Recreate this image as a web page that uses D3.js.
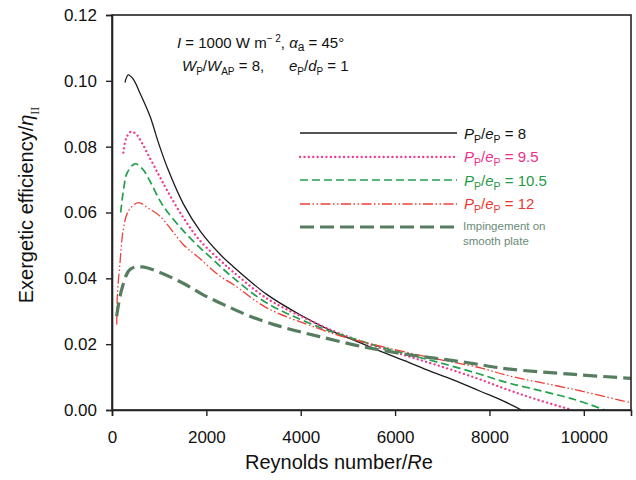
<!DOCTYPE html>
<html>
<head>
<meta charset="utf-8">
<script src="https://cdn.jsdelivr.net/npm/d3@7"></script>
<style>
  html, body { margin: 0; padding: 0; background: #fff; }
  svg { display: block; font-family: "Liberation Sans", Arial, sans-serif; }
</style>
</head>
<body>
<svg id="chart" width="636" height="480"></svg>
<script>
// Exergetic efficiency vs Reynolds number for pitch ratios and smooth-plate impingement
const xTicks = [0, 2000, 4000, 6000, 8000, 10000];
const yTicks = [0.00, 0.02, 0.04, 0.06, 0.08, 0.10, 0.12];

const rePe8  = [275, 345, 450, 592, 804, 1000, 1195, 1509, 1862, 2290, 2566, 3272, 3977, 4625, 5200, 5685, 6200, 6745, 7300, 7806, 8300, 8680];
const effPe8 = [0.0995, 0.1018, 0.1005, 0.0963, 0.0893, 0.0805, 0.0728, 0.0627, 0.0545, 0.0473, 0.0436, 0.0352, 0.0290, 0.0242, 0.0208, 0.0179, 0.0150, 0.0118, 0.0088, 0.0057, 0.0027, 0.0];

const rePe95  = [240, 300, 395, 500, 592, 804, 1000, 1157, 1509, 1862, 2290, 2566, 3272, 4119, 4800, 5685, 6300, 6960, 7700, 8381, 9000, 9750];
const effPe95 = [0.0782, 0.0825, 0.0845, 0.0840, 0.0822, 0.0765, 0.0712, 0.0670, 0.0585, 0.0515, 0.0455, 0.0420, 0.0340, 0.0277, 0.0234, 0.0189, 0.0162, 0.0133, 0.0098, 0.0062, 0.0032, 0.0];

const rePe105  = [184, 250, 320, 487, 650, 806, 1000, 1157, 1509, 1862, 2079, 2566, 3272, 4330, 5000, 5685, 6300, 6960, 7700, 8381, 9100, 9800, 10450];
const effPe105 = [0.0600, 0.0675, 0.0720, 0.0748, 0.0732, 0.0695, 0.0640, 0.0605, 0.0545, 0.0493, 0.0465, 0.0402, 0.0326, 0.0255, 0.0222, 0.0192, 0.0168, 0.0143, 0.0113, 0.0083, 0.0058, 0.0032, 0.0];

const rePe12  = [100, 113, 170, 240, 350, 557, 750, 1015, 1509, 1862, 2285, 2566, 3272, 4330, 5000, 5685, 6745, 7806, 8381, 9800, 11000];
const effPe12 = [0.0260, 0.0346, 0.0448, 0.0549, 0.0605, 0.0630, 0.0615, 0.0589, 0.0503, 0.0460, 0.0407, 0.0382, 0.0311, 0.0250, 0.0218, 0.0194, 0.0159, 0.0128, 0.0105, 0.0062, 0.0022];

const reSmooth  = [99, 205, 381, 628, 1015, 1509, 1932, 2400, 2923, 3563, 3977, 4400, 5325, 6385, 7030, 7657, 8381, 9800, 11000];
const effSmooth = [0.0285, 0.0366, 0.0427, 0.0435, 0.0418, 0.0385, 0.0350, 0.0318, 0.0285, 0.0254, 0.0238, 0.0223, 0.0192, 0.0166, 0.0154, 0.0141, 0.0125, 0.0108, 0.0096];

const seriesNames = ["8", "9.5", "10.5", "12", "smooth"];

const series = [
  { name: seriesNames[0], re: rePe8,   eff: effPe8,   color: "#1c1c1c", width: 1.3, dash: null,                 cap: "butt",  text: "#111" },
  { name: seriesNames[1], re: rePe95,  eff: effPe95,  color: "#f0388f", width: 2.3, dash: "0.1,4.3",            cap: "round", text: "#ec2f8a" },
  { name: seriesNames[2], re: rePe105, eff: effPe105, color: "#22a04c", width: 1.7, dash: "8,4",                cap: "butt",  text: "#1f9a46" },
  { name: seriesNames[3], re: rePe12,  eff: effPe12,  color: "#ee3f35", width: 1.3, dash: "10,2.5,1.5,2.5,1.5,2.5", cap: "butt", text: "#ea3a30" },
  { name: seriesNames[4], re: reSmooth, eff: effSmooth, color: "#577d60", width: 3.2, dash: "14,6",             cap: "butt",  text: "#6b8a78" }
];

const svg = d3.select("#chart");
const margin = { left: 112, right: 5, top: 15, bottom: 70 };
const W = 636, H = 480;
const x = d3.scaleLinear().domain([0, 11000]).range([margin.left, W - margin.right]);
const y = d3.scaleLinear().domain([0, 0.12]).range([H - margin.bottom, margin.top]);

svg.append("defs").append("clipPath").attr("id", "plot")
  .append("rect")
  .attr("x", x(0)).attr("y", y(0.12))
  .attr("width", x(11000) - x(0)).attr("height", y(0) - y(0.12));

// curves
const line = d3.line().curve(d3.curveCatmullRom.alpha(0.5));
const gCurves = svg.append("g").attr("clip-path", "url(#plot)");
series.forEach(s => {
  const pts = s.re.map((r, i) => [x(r), y(s.eff[i])]);
  gCurves.append("path")
    .attr("d", line(pts))
    .attr("fill", "none")
    .attr("stroke", s.color)
    .attr("stroke-width", s.width)
    .attr("stroke-dasharray", s.dash)
    .attr("stroke-linecap", s.cap);
});

// frame and axes
svg.append("rect")
  .attr("x", x(0)).attr("y", y(0.12))
  .attr("width", x(11000) - x(0)).attr("height", y(0) - y(0.12))
  .attr("fill", "none").attr("stroke", "#222").attr("stroke-width", 1.6);

const xAxis = svg.append("g")
  .attr("transform", `translate(0,${y(0)})`)
  .call(d3.axisBottom(x).tickValues(xTicks).tickFormat(d3.format("d")).tickSize(6).tickPadding(15));
const yAxis = svg.append("g")
  .attr("transform", `translate(${x(0)},0)`)
  .call(d3.axisLeft(y).tickValues(yTicks).tickFormat(d3.format(".2f")).tickSize(6).tickPadding(9));
[xAxis, yAxis].forEach(a => {
  a.select(".domain").attr("stroke", "#222").attr("stroke-width", 1.6);
  a.selectAll(".tick line").attr("stroke", "#222").attr("stroke-width", 1.4);
  a.selectAll(".tick text").attr("fill", "#111").style("font-size", "17px")
    .style("font-family", "'Liberation Sans', Arial, sans-serif");
});

// axis titles
const xTitle = svg.append("text")
  .attr("x", 339).attr("y", 469)
  .attr("text-anchor", "middle").attr("fill", "#111").style("font-size", "20px");
xTitle.append("tspan").text("Reynolds number/");
xTitle.append("tspan").attr("font-style", "italic").text("R");
xTitle.append("tspan").text("e");

const yTitle = svg.append("text")
  .attr("transform", "translate(33,205) rotate(-90)")
  .attr("text-anchor", "middle").attr("fill", "#111").style("font-size", "20px");
yTitle.append("tspan").text("Exergetic efficiency/");
yTitle.append("tspan").attr("font-style", "italic").text("η");
yTitle.append("tspan").attr("dy", 6).style("font-size", "12px").style("font-family", "'Liberation Serif', serif").text("II");

// P_P/e_P = v
function pLabel(sel, v) {
  sel.append("tspan").attr("font-style", "italic").text("P");
  sel.append("tspan").attr("dy", 4).style("font-size", "10.5px").text("P");
  sel.append("tspan").attr("dy", -4).text("/");
  sel.append("tspan").attr("font-style", "italic").text("e");
  sel.append("tspan").attr("dy", 4).style("font-size", "10.5px").text("P");
  sel.append("tspan").attr("dy", -4).text(" = " + v);
}

// legend
const legendRows = [133, 157, 180, 204, 227];
const legendTextY = [139, 162, 186, 209];
series.forEach((s, i) => {
  svg.append("line")
    .attr("x1", 300).attr("x2", 457)
    .attr("y1", legendRows[i]).attr("y2", legendRows[i])
    .attr("stroke", s.color).attr("stroke-width", s.width)
    .attr("stroke-dasharray", s.dash).attr("stroke-linecap", s.cap);
  if (i < 4) {
    const t = svg.append("text").attr("x", 464).attr("y", legendTextY[i])
      .attr("fill", s.text).style("font-size", "15px");
    pLabel(t, s.name);
  } else {
    const t = svg.append("text").attr("x", 463).attr("y", 230)
      .attr("fill", s.text).style("font-size", "11.5px");
    t.append("tspan").attr("x", 463).text("Impingement on");
    t.append("tspan").attr("x", 463).attr("dy", 15).text("smooth plate");
  }
});

// operating conditions
const a1 = svg.append("text").attr("x", 177).attr("y", 48).attr("fill", "#111").style("font-size", "15px");
a1.append("tspan").attr("font-style", "italic").text("I");
a1.append("tspan").text(" = 1000 W m");
a1.append("tspan").attr("dy", -6).style("font-size", "10px").text("− 2");
a1.append("tspan").attr("dy", 6).text(", ");
a1.append("tspan").attr("font-style", "italic").text("α");
a1.append("tspan").attr("dy", 3).style("font-size", "12px").text("a");
a1.append("tspan").attr("dy", -3).text(" = 45°");

const a2 = svg.append("text").attr("x", 182).attr("y", 71).attr("fill", "#111").style("font-size", "15px");
a2.append("tspan").attr("font-style", "italic").text("W");
a2.append("tspan").attr("dy", 4).style("font-size", "10px").text("P");
a2.append("tspan").attr("dy", -4).text("/");
a2.append("tspan").attr("font-style", "italic").text("W");
a2.append("tspan").attr("dy", 4).style("font-size", "10px").text("AP");
a2.append("tspan").attr("dy", -4).text(" = 8,");
const a3 = svg.append("text").attr("x", 289).attr("y", 71).attr("fill", "#111").style("font-size", "15px");
a3.append("tspan").attr("font-style", "italic").text("e");
a3.append("tspan").attr("dy", 4).style("font-size", "10px").text("P");
a3.append("tspan").attr("dy", -4).text("/");
a3.append("tspan").attr("font-style", "italic").text("d");
a3.append("tspan").attr("dy", 4).style("font-size", "10px").text("P");
a3.append("tspan").attr("dy", -4).text(" = 1");
</script>
</body>
</html>
